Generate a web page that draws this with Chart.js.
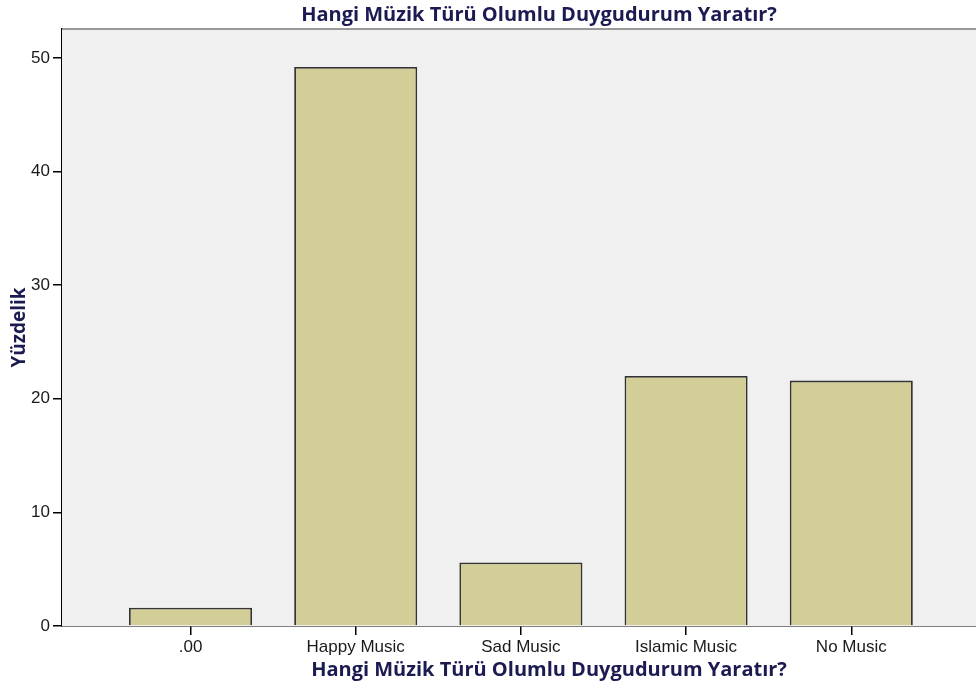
<!DOCTYPE html>
<html>
<head>
<meta charset="utf-8">
<script src="https://cdn.jsdelivr.net/npm/chart.js@4/dist/chart.umd.min.js"></script>
<style>
  html, body { margin: 0; padding: 0; background: #fff; }
  #wrap { width: 976px; height: 684px; }
</style>
</head>
<body>
<div id="wrap"><canvas id="chart" width="976" height="684"></canvas></div>
<script>
// Veriler (yüzde)
const categories = ['.00', 'Happy Music', 'Sad Music', 'Islamic Music', 'No Music'];
const percents = [1.6, 49.2, 5.6, 22.0, 21.6];
const yTicks = [0, 10, 20, 30, 40, 50];

const titleText = 'Hangi Müzik Türü Olumlu Duygudurum Yaratır?';
const navy = '#1b1b52';
const titleFont = 'bold 20px "Open Sans"';

// Arka plan ve üst çerçeve
const plotFrame = {
    id: 'plotFrame',
    beforeDatasetsDraw(chart) {
        const { ctx, chartArea: a } = chart;
        ctx.save();
        ctx.fillStyle = '#f0f0f0';
        ctx.fillRect(a.left, a.top, a.right - a.left, a.bottom - a.top);
        ctx.strokeStyle = '#7a7a7a';
        ctx.lineWidth = 1.5;
        ctx.beginPath();
        ctx.moveTo(a.left, a.top);
        ctx.lineTo(a.right, a.top);
        ctx.stroke();
        ctx.restore();
    }
};

// Başlıklar (SPSS çıktısında ortadan biraz sağa kaymış)
const titles = {
    id: 'titles',
    afterDraw(chart) {
        const ctx = chart.ctx;
        ctx.save();
        ctx.font = titleFont;
        ctx.fillStyle = navy;
        ctx.textAlign = 'center';
        ctx.textBaseline = 'middle';
        ctx.fillText(titleText, 539, 15);
        ctx.fillText(titleText, 549, 670);
        ctx.restore();
    }
};

new Chart(document.getElementById('chart'), {
    type: 'bar',
    data: {
        datasets: [{
            data: categories.map((c, i) => ({ x: i, y: percents[i] })),
            backgroundColor: '#d3ce98',
            borderColor: '#333333',
            borderWidth: 1.8,
            categoryPercentage: 1,
            barPercentage: 0.745
        }]
    },
    options: {
        responsive: false,
        animation: false,
        layout: { padding: { top: 29, left: 0, right: 0, bottom: 0 } },
        plugins: {
            legend: { display: false },
            tooltip: { enabled: false },
            title: { display: false }
        },
        scales: {
            x: {
                type: 'linear',
                offset: false,
                min: -0.778,
                max: 4.755,
                afterBuildTicks(scale) {
                    scale.ticks = categories.map((c, i) => ({ value: i }));
                },
                afterFit(scale) { scale.height = 58; },
                grid: { offset: false, drawOnChartArea: false, drawTicks: true, tickLength: 9, color: '#000', lineWidth: 1.5 },
                border: { display: true, color: '#000', width: 1.5 },
                ticks: {
                    color: '#1a1a1a',
                    padding: 2,
                    maxRotation: 0,
                    font: { family: 'Liberation Sans', size: 17 },
                    callback: (v) => categories[v]
                }
            },
            y: {
                min: 0,
                max: 52.55,
                afterBuildTicks(scale) {
                    scale.ticks = yTicks.map(v => ({ value: v }));
                },
                afterFit(scale) { scale.width = 62; },
                grid: { drawOnChartArea: false, drawTicks: true, tickLength: 9, color: '#000', lineWidth: 1.5 },
                border: { display: true, color: '#000', width: 1.5 },
                ticks: {
                    color: '#1a1a1a',
                    padding: 3,
                    font: { family: 'Liberation Sans', size: 17 }
                },
                title: {
                    display: true,
                    text: 'Yüzdelik',
                    color: navy,
                    font: { family: 'Open Sans', size: 19, weight: 'bold' },
                    padding: { top: 8, bottom: 0 }
                }
            }
        }
    },
    plugins: [plotFrame, titles]
});
</script>
</body>
</html>
